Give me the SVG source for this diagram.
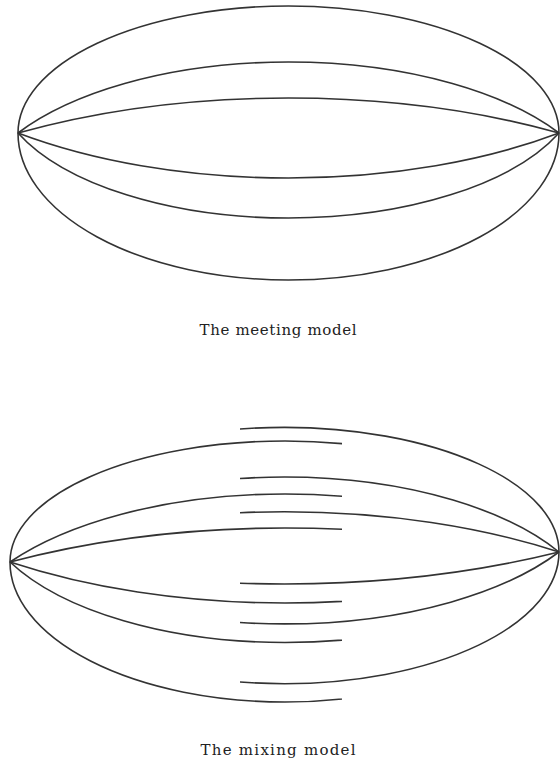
<svg xmlns="http://www.w3.org/2000/svg" width="560" height="769" viewBox="0 0 560 769">
<style>
.ln{fill:none;stroke:#333;stroke-width:1.6}
.lbl{font-family:"DejaVu Serif","Liberation Serif",serif;font-size:15px;fill:#222;text-anchor:middle}
</style>
<defs>
<clipPath id="clipL"><rect x="0" y="400" width="342" height="320"/></clipPath>
<clipPath id="clipR"><rect x="240" y="400" width="320" height="320"/></clipPath>
</defs>
<rect width="560" height="769" fill="#fff"/>
<g id="meeting-model">
<path class="ln" d="M18,133 A270.5,127 0 0 1 559,133"/>
<path class="ln" d="M18,133 A320,152.3 0 0 1 559,133"/>
<path class="ln" d="M18,133 A534.5,254.5 0 0 1 559,133"/>
<path class="ln" d="M18,133 A434.4,206.9 0 0 0 559,133"/>
<path class="ln" d="M18,133 A294.2,140.1 0 0 0 559,133"/>
<path class="ln" d="M18,133 A270.5,147 0 0 0 559,133"/>
</g>
<g id="meeting-label"><text class="lbl" x="278" y="335" textLength="157" lengthAdjust="spacing">The meeting model</text></g>
<g id="mixing-model">
<g id="mixing-left" clip-path="url(#clipL)">
<path class="ln" d="M10,562 A275,121 0 0 1 560,562"/>
<path class="ln" d="M10,562 A336.2,160.1 0 0 1 560,562"/>
<path class="ln" d="M10,562 A565.3,269.2 0 0 1 560,562"/>
<path class="ln" d="M10,562 A482.2,229.6 0 0 0 560,562"/>
<path class="ln" d="M10,562 A308.2,146.8 0 0 0 560,562"/>
<path class="ln" d="M10,562 A275,140 0 0 0 560,562"/>
</g>
<g id="mixing-right" clip-path="url(#clipR)">
<path class="ln" d="M10,552 A274.5,124.6 0 0 1 559,552"/>
<path class="ln" d="M10,552 A318,151.4 0 0 1 559,552"/>
<path class="ln" d="M10,552 A488,232.4 0 0 1 559,552"/>
<path class="ln" d="M10,552 A595,283.3 0 0 0 559,552"/>
<path class="ln" d="M10,552 A325,154.8 0 0 0 559,552"/>
<path class="ln" d="M10,552 A274.5,131.7 0 0 0 559,552"/>
</g>
</g>
<g id="mixing-label"><text class="lbl" x="278" y="755" textLength="155" lengthAdjust="spacing">The mixing model</text></g>
</svg>
